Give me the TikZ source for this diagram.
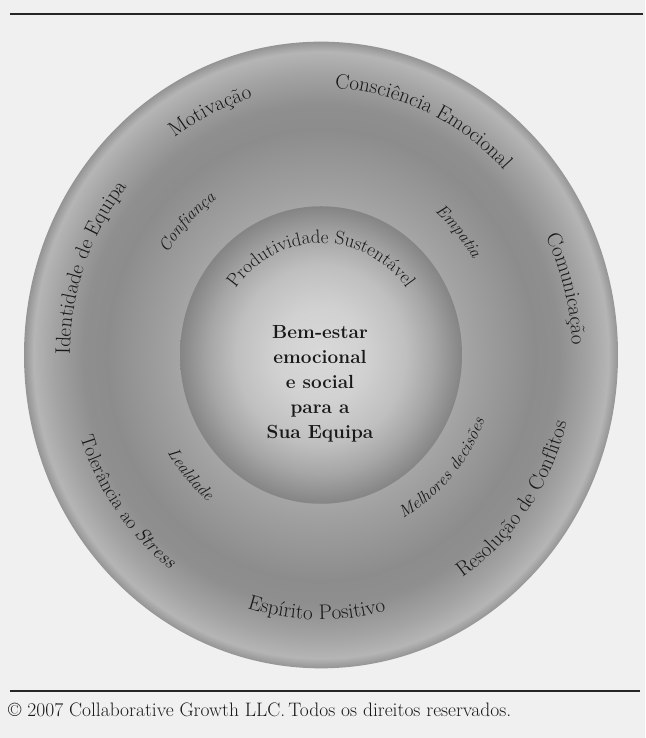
\documentclass[tikz,border=0pt]{standalone}
\usetikzlibrary{decorations.text}
\definecolor{bgcol}{gray}{0.94}
\definecolor{txtcol}{gray}{0.1}
\definecolor{linecol}{gray}{0.15}
\pgfdeclareradialshading{ringshade}{\pgfpointorigin}{rgb(0bp)=(0.65,0.65,0.65); rgb(11.75bp)=(0.65,0.65,0.65); rgb(13.5bp)=(0.62,0.62,0.62); rgb(18bp)=(0.55,0.55,0.55); rgb(20bp)=(0.56,0.56,0.56); rgb(22.5bp)=(0.64,0.64,0.64); rgb(24.2bp)=(0.71,0.71,0.71); rgb(25bp)=(0.58,0.58,0.58); rgb(50bp)=(0.58,0.58,0.58)}
\pgfdeclareradialshading{ballshade}{\pgfpointorigin}{rgb(0bp)=(0.85,0.85,0.85); rgb(8bp)=(0.82,0.82,0.82); rgb(15bp)=(0.75,0.75,0.75); rgb(20bp)=(0.65,0.65,0.65); rgb(23.5bp)=(0.56,0.56,0.56); rgb(25bp)=(0.52,0.52,0.52); rgb(50bp)=(0.52,0.52,0.52)}
\tikzset{
  outerlbl/.style={decorate, decoration={text along path, text align=center, text color=txtcol, text={|\fontsize{21}{24}\selectfont|#1}}},
  midlbl/.style={decorate, decoration={text along path, text align=center, text color=txtcol, text={|\fontsize{17}{20}\selectfont\itshape|#1}}},
  innerlbl/.style={decorate, decoration={text along path, text align=center, text color=txtcol, text={|\fontsize{19}{22}\selectfont|#1}}},
  centertext/.style={align=center, text=txtcol, font=\bfseries\fontsize{19}{25}\selectfont, inner sep=0pt},
  rule/.style={line width=1.1pt, draw=linecol}
}
\begin{document}
\begin{tikzpicture}[x=1pt,y=1pt]
\useasboundingbox (0,0) rectangle (645,738);
\fill[bgcol] (0,0) rectangle (645,738);
\draw[rule] (10,724) -- (643,724);
\draw[rule] (10,47) -- (640,47);
\node[anchor=base west, inner sep=0pt, text=txtcol, font=\fontsize{19.5}{22}\selectfont] (copy) at (8,21) {© 2007 Collaborative Growth LLC.\,Todos os direitos reservados.};
\begin{scope}[shift={(321,383)}, yscale=1.055]
  \shade[shading=ringshade] (0,0) circle[radius=297];
  \shade[shading=ballshade] (0,0) circle[radius=141];
  % outer ring, clockwise labels
  \path[outerlbl={Identidade de Equipa}] (219.6:251) arc[start angle=219.6, end angle=99.6, radius=251];
  \path[outerlbl={Motivação}] (174.7:253) arc[start angle=174.7, end angle=54.7, radius=253];
  \path[outerlbl={Consciência Emocional}] (126:253) arc[start angle=126, end angle=6, radius=253];
  \path[outerlbl={Comunicação}] (74.9:251) arc[start angle=74.9, end angle=-45.1, radius=251];
  % outer ring, counter-clockwise labels
  \path[decorate, decoration={text along path, text align=center, text color=txtcol, text={|\fontsize{19.5}{22}\selectfont|Tolerância ao |\fontsize{19.5}{22}\selectfont\itshape|Stress}}] (156.6:253) arc[start angle=156.6, end angle=276.6, radius=253];
  \path[outerlbl={Espírito Positivo}] (-151:251) arc[start angle=-151, end angle=-31, radius=251];
  \path[outerlbl={Resolução de Conflitos}] (-96.3:254) arc[start angle=-96.3, end angle=23.7, radius=254];
  % middle ring italic labels
  \path[midlbl={Confiança}] (195.6:181) arc[start angle=195.6, end angle=75.6, radius=181];
  \path[midlbl={Empatia}] (101.5:177) arc[start angle=101.5, end angle=-18.5, radius=177];
  \path[midlbl={Lealdade}] (162:179) arc[start angle=162, end angle=282, radius=179];
  \path[midlbl={Melhores decisões}] (-102.4:175) arc[start angle=-102.4, end angle=17.6, radius=175];
  % inner sphere label
  \path[innerlbl={Produtividade Sustentável}] (190:106) arc[start angle=190, end angle=-10, radius=106];
\end{scope}
\node[centertext] (center) at (320,354) {Bem-estar\\emocional\\e social\\para a\\Sua Equipa};
\end{tikzpicture}
\end{document}
